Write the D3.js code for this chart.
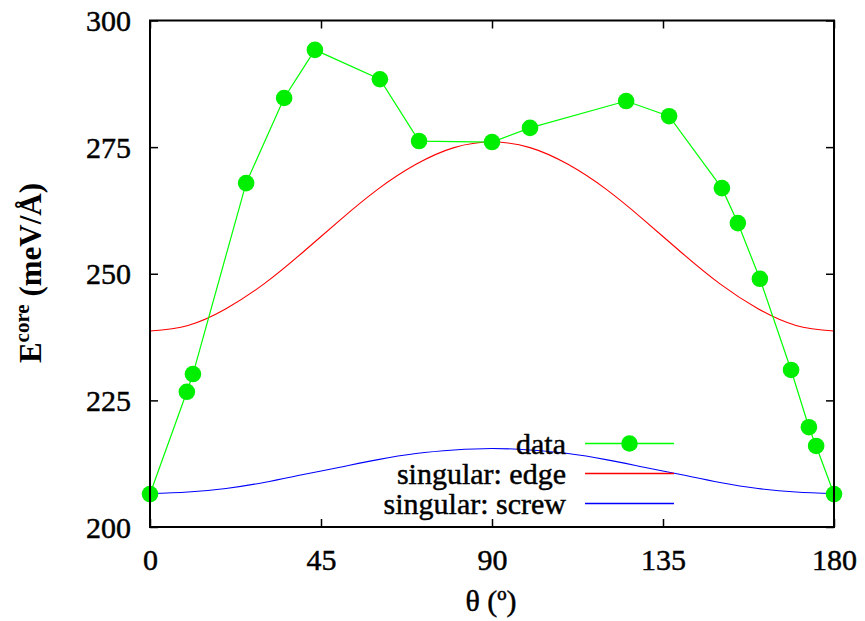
<!DOCTYPE html>
<html>
<head>
<meta charset="utf-8">
<script src="https://cdn.jsdelivr.net/npm/d3@7/dist/d3.min.js"></script>
<style>
  html, body { margin: 0; padding: 0; background: #fff; }
  svg { display: block; }
  text { font-family: "Liberation Serif", "Times New Roman", serif; fill: #000; }
</style>
</head>
<body>
<svg id="chart" width="865" height="621"></svg>
<script>
// ---- data ----
const dataTheta = [0, 9.7, 11.3, 25.3, 35.3, 43.4, 60.5, 70.8, 90.0, 100.0, 125.3, 136.6, 150.5, 154.7, 160.5, 168.7, 173.4, 175.3, 180];
const dataE     = [206.5, 226.7, 230.2, 267.9, 284.7, 294.2, 288.4, 276.2, 276.0, 278.8, 284.1, 281.1, 266.9, 260.0, 249.0, 231.0, 219.7, 216.0, 206.5];

const curveTheta = [0, 10, 20, 30, 40, 50, 60, 70, 80, 90, 100, 110, 120, 130, 140, 150, 160, 170, 180];
const edgeE  = [238.7, 239.8, 243.1, 248.0, 254.1, 260.6, 266.7, 271.6, 274.9, 276.0, 274.9, 271.6, 266.7, 260.6, 254.1, 248.0, 243.1, 239.8, 238.7];
const screwE = [206.6, 206.9, 207.6, 208.8, 210.3, 211.8, 213.3, 214.5, 215.2, 215.5, 215.2, 214.5, 213.3, 211.8, 210.3, 208.8, 207.6, 206.9, 206.6];

const xTicks = [0, 45, 90, 135, 180];
const yTicks = [200, 225, 250, 275, 300];
const legendLabels = ["data", "singular: edge", "singular: screw"];
const seriesColors = ["#00ff00", "#ff0000", "#0000ff"];

// ---- layout ----
const L = 150, R = 834, T = 20.5, B = 527;
const FONT = '"Liberation Serif", "Times New Roman", serif';
const svg = d3.select("#chart");

const x = d3.scaleLinear().domain([0, 180]).range([L, R]);
const y = d3.scaleLinear().domain([200, 300]).range([B, T]);

const line = d3.line().x(d => x(d[0])).y(d => y(d[1]));
const smooth = d3.line().x(d => x(d[0])).y(d => y(d[1])).curve(d3.curveNatural);

const gPlot = svg.append("g");
gPlot.append("path")
  .datum(curveTheta.map((t, i) => [t, edgeE[i]]))
  .attr("d", smooth).attr("fill", "none").attr("stroke", seriesColors[1]).attr("stroke-width", 1.1);
gPlot.append("path")
  .datum(curveTheta.map((t, i) => [t, screwE[i]]))
  .attr("d", smooth).attr("fill", "none").attr("stroke", seriesColors[2]).attr("stroke-width", 1.1);

const pts = dataTheta.map((t, i) => [t, dataE[i]]);
gPlot.append("path").datum(pts).attr("d", line)
  .attr("fill", "none").attr("stroke", seriesColors[0]).attr("stroke-width", 1.2);
gPlot.selectAll("circle.pt").data(pts).enter().append("circle")
  .attr("class", "pt")
  .attr("cx", d => x(d[0])).attr("cy", d => y(d[1])).attr("r", 8.3)
  .attr("fill", "#00ee00");

// axes (inward ticks, mirrored)
const tickLen = 8;
const axB = svg.append("g").attr("transform", `translate(0,${B})`)
  .call(d3.axisBottom(x).tickValues(xTicks).tickSizeInner(-tickLen).tickSizeOuter(0).tickPadding(22));
const axT = svg.append("g").attr("transform", `translate(0,${T})`)
  .call(d3.axisTop(x).tickValues(xTicks).tickSizeInner(-tickLen).tickSizeOuter(0).tickFormat(""));
const axL = svg.append("g").attr("transform", `translate(${L},0)`)
  .call(d3.axisLeft(y).tickValues(yTicks).tickSizeInner(-tickLen).tickSizeOuter(0).tickPadding(19));
const axR = svg.append("g").attr("transform", `translate(${R},0)`)
  .call(d3.axisRight(y).tickValues(yTicks).tickSizeInner(-tickLen).tickSizeOuter(0).tickFormat(""));

[axB, axT, axL, axR].forEach(a => {
  a.attr("font-family", FONT);
  a.select(".domain").remove();
  a.selectAll(".tick line").attr("stroke", "#000").attr("stroke-width", 1.5);
  a.selectAll(".tick text").attr("font-size", 30).style("font-family", FONT)
    .attr("stroke", "#000").attr("stroke-width", 0.45);
});
axL.selectAll(".tick text").attr("dy", "0.34em");
axB.selectAll(".tick text").attr("dy", "0.71em");

// frame
svg.append("rect").attr("x", L).attr("y", T).attr("width", R - L).attr("height", B - T)
  .attr("fill", "none").attr("stroke", "#000").attr("stroke-width", 2);

// axis titles
svg.append("text").attr("x", 491).attr("y", 611).attr("text-anchor", "middle")
  .style("font-family", FONT).attr("stroke", "#000").attr("stroke-width", 0.45)
  .attr("font-size", 30).text("θ (º)");

const yt = svg.append("text").attr("transform", "translate(41,273) rotate(-90)")
  .style("font-family", FONT)
  .attr("text-anchor", "middle").attr("font-size", 31).attr("font-weight", "bold");
yt.append("tspan").text("E");
yt.append("tspan").attr("font-size", 21).attr("dy", -12).text("core");
yt.append("tspan").attr("dy", 12).text(" (meV/Å)");

// legend
const legY = [443.5, 473.5, 503.5];
const leg = svg.append("g");
legendLabels.forEach((lab, i) => {
  leg.append("text").attr("x", 566).attr("y", legY[i]).attr("dy", "0.34em")
    .style("font-family", FONT).attr("stroke", "#000").attr("stroke-width", 0.45)
    .attr("text-anchor", "end").attr("font-size", 30).text(lab);
  leg.append("line").attr("x1", 585).attr("x2", 674).attr("y1", legY[i]).attr("y2", legY[i])
    .style("stroke", seriesColors[i]).attr("stroke-width", 1.4);
});
leg.append("circle").attr("cx", 629.5).attr("cy", legY[0]).attr("r", 8.3).attr("fill", "#00ee00");
</script>
</body>
</html>
